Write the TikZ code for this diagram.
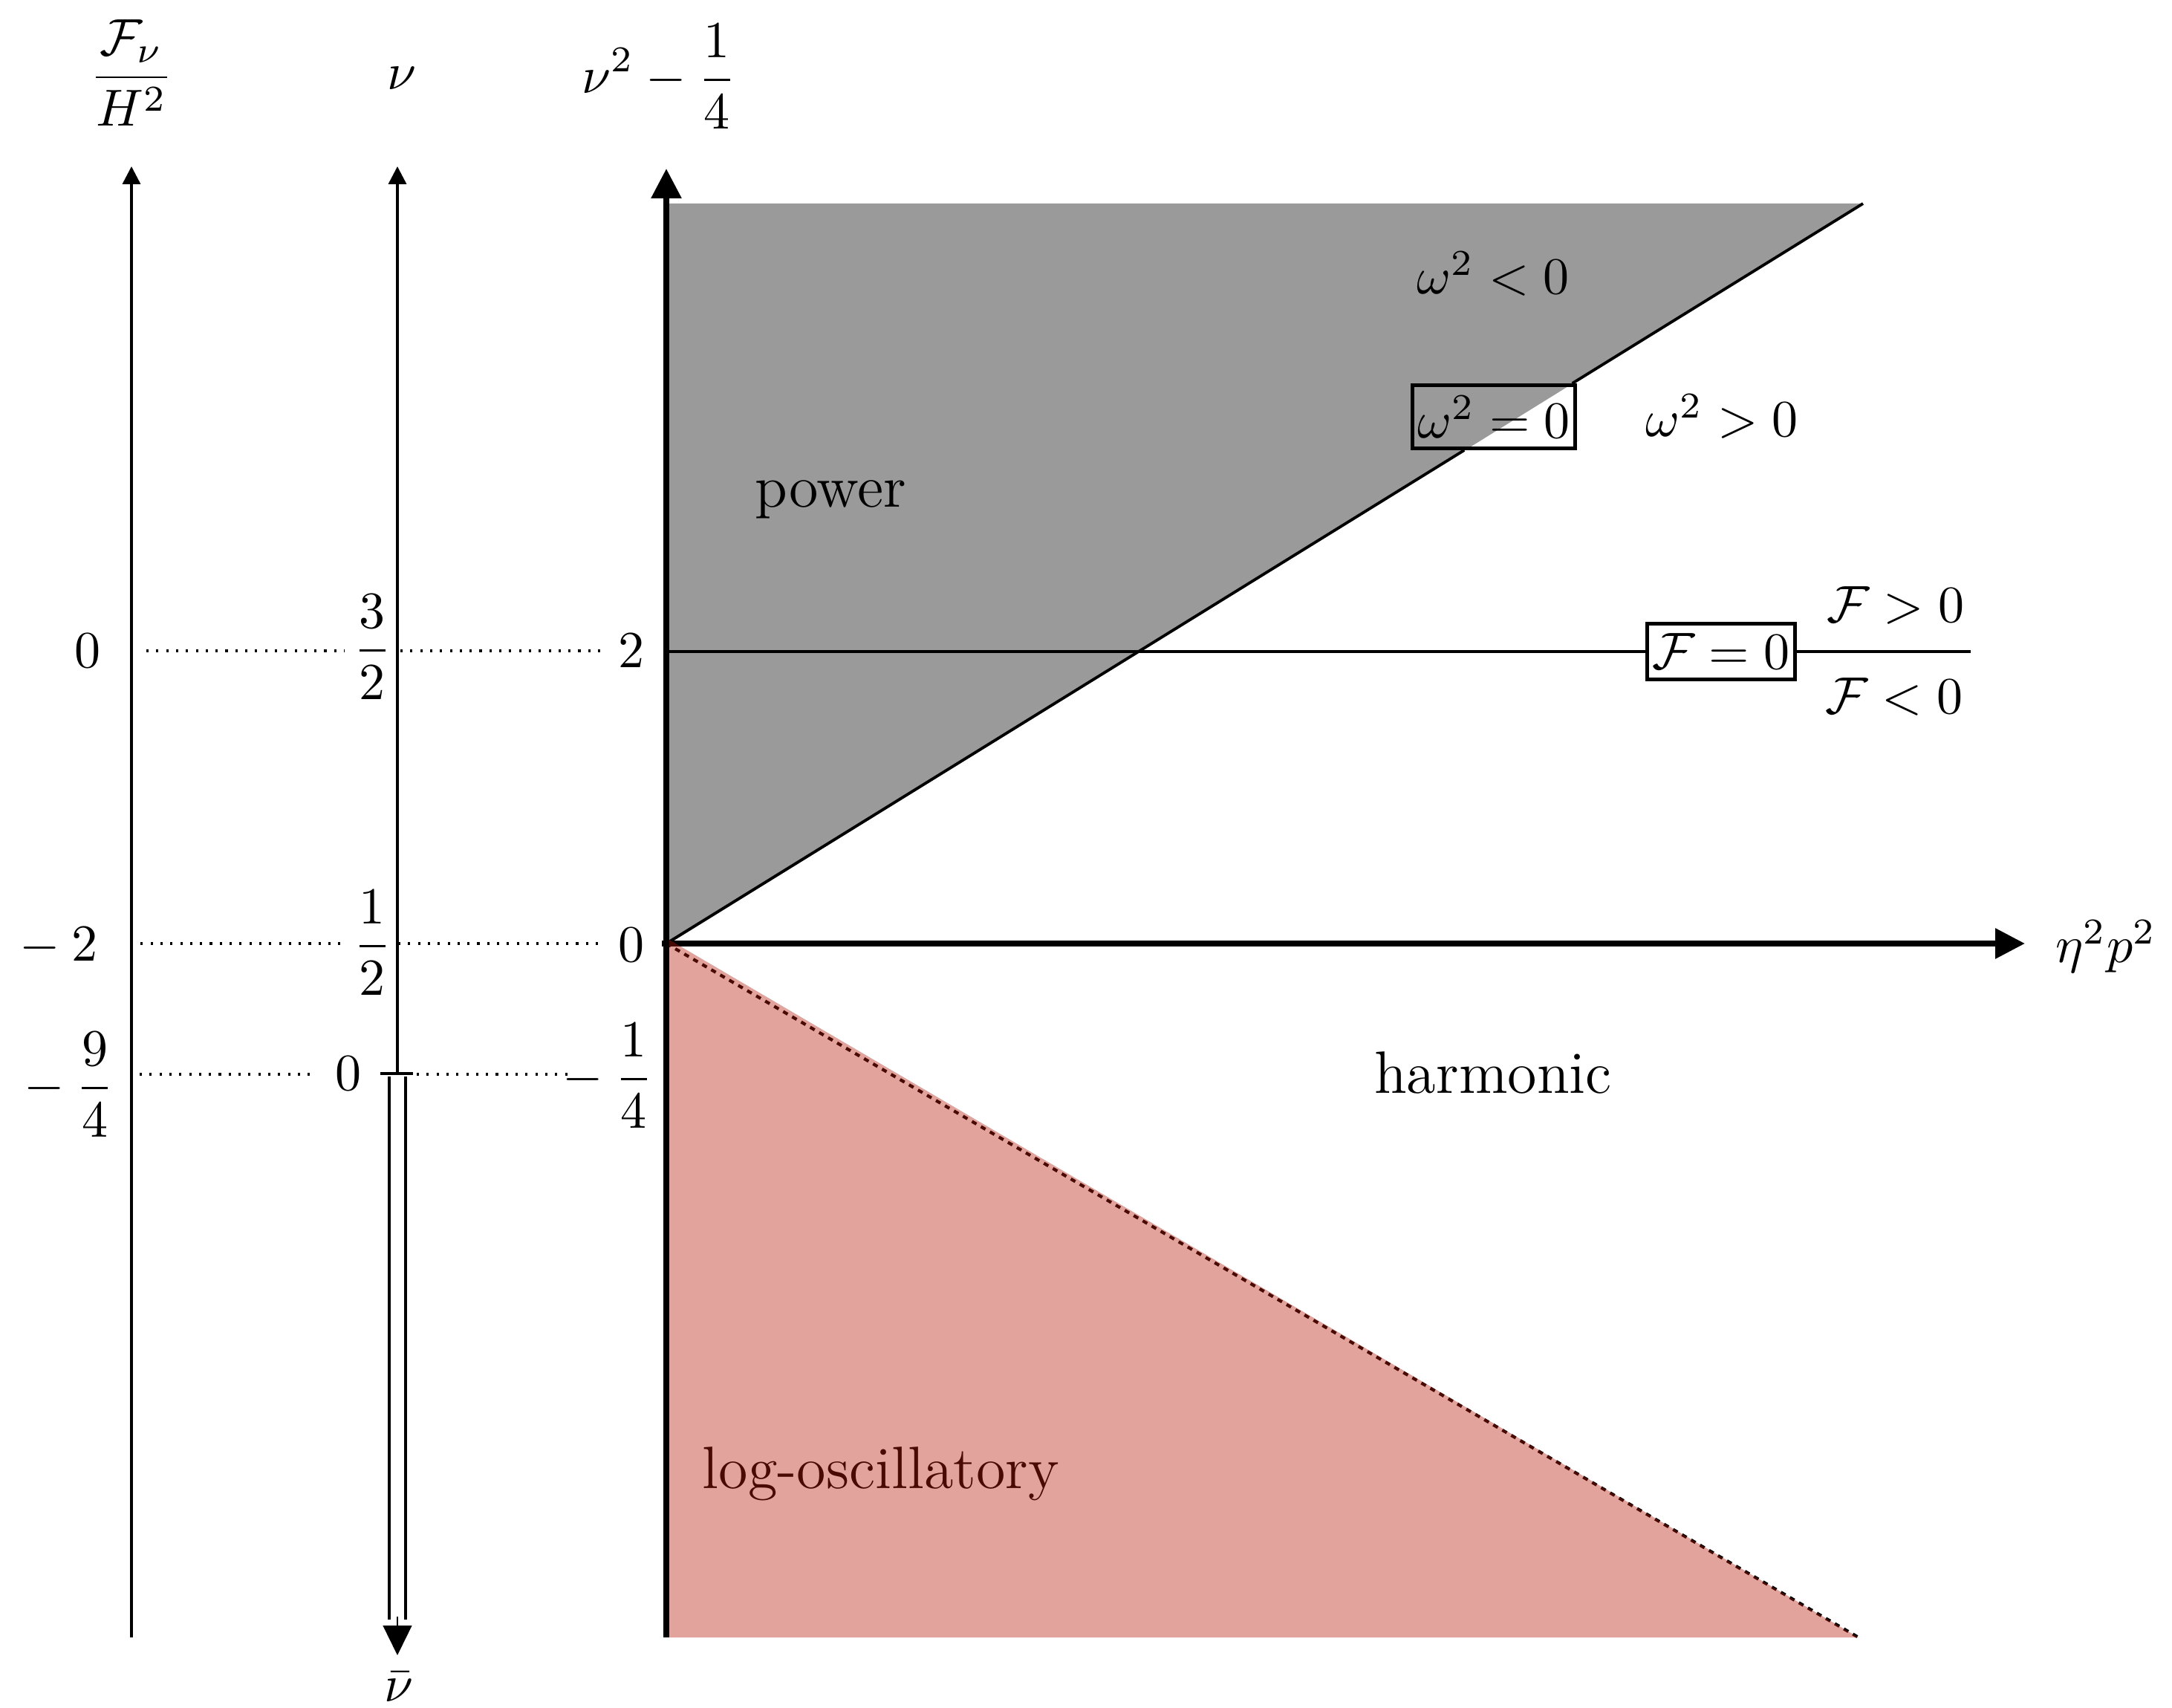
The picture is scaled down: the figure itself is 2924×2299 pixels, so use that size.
\documentclass[tikz,border=0pt]{standalone}
\usetikzlibrary{arrows.meta}
\definecolor{redfill}{RGB}{185,25,10}
\definecolor{grayfill}{RGB}{154,154,154}
\begin{document}
\begin{tikzpicture}[x=0.142857pt,y=-0.142857pt,
  thinax/.style={line width=0.5pt,-{Triangle[length=3.4pt,width=3.4pt]}},
  thickax/.style={line width=1.15pt,-{Triangle[length=5.7pt,width=5.6pt]}},
  guide/.style={line width=0.45pt,dash pattern=on 0.45pt off 1.45pt},
  thinline/.style={line width=0.55pt},
  boxlbl/.style={draw,line width=0.7pt,inner xsep=1pt,inner ysep=2pt},
  txt/.style={font=\fontsize{11.5}{13.5}\selectfont,anchor=base},
  mth/.style={anchor=base},
  lbl/.style={inner sep=0pt}
]
\useasboundingbox (0,0) rectangle (2924,2299);

% regions
\coordinate (O) at (897,1270);
\coordinate (T) at (2508,274);
\coordinate (R) at (2502,2204);
\fill[grayfill] (901,1270) -- (901,274) -- (T) -- cycle;

% dotted guide lines
\coordinate (g1a) at (197,876);  \coordinate (g1b) at (464,876);
\coordinate (g1c) at (539,876);  \coordinate (g1d) at (812,876);
\coordinate (g2a) at (176,1270); \coordinate (g2b) at (467,1270);
\coordinate (g2c) at (536,1270); \coordinate (g2d) at (806,1270);
\coordinate (g3a) at (188,1446); \coordinate (g3b) at (418,1446);
\coordinate (g3c) at (561,1446); \coordinate (g3d) at (764,1446);
\draw[guide] (g1a) -- (g1b); \draw[guide] (g1c) -- (g1d);
\draw[guide] (g2a) -- (g2b); \draw[guide] (g2c) -- (g2d);
\draw[guide] (g3a) -- (g3b); \draw[guide] (g3c) -- (g3d);

% boxed labels and the lines they sit on
\node[boxlbl] (wz) at (2011,561) {$\omega^2=0$};
\draw[thinline] (O) -- (intersection of O--T and wz.south west--wz.south east);
\draw[thinline] (intersection of O--T and wz.north west--wz.north east) -- (T);

\coordinate (F1) at (897,877);
\coordinate (F2) at (2653,877);
\node[boxlbl] (fz) at (2317,877) {$\mathcal{F}=0$};
\draw[thinline] (F1) -- (fz.west);
\draw[thinline] (fz.east) -- (F2);

% red boundary
\draw[line width=0.6pt,dash pattern=on 1pt off 1pt] (O) -- (R);

% axes
\coordinate (a1b) at (177,2204); \coordinate (a1t) at (177,224);
\draw[thinax] (a1b) -- (a1t);
\coordinate (a2b) at (535,1445); \coordinate (a2t) at (535,224);
\draw[thinax] (a2b) -- (a2t);
\coordinate (tkl) at (512,1445); \coordinate (tkr) at (556,1445);
\draw[line width=0.7pt] (tkl) -- (tkr);
\coordinate (d1t) at (524,1449); \coordinate (d1b) at (524,2180);
\coordinate (d2t) at (546,1449); \coordinate (d2b) at (546,2180);
\draw[line width=0.5pt] (d1t) -- (d1b);
\draw[line width=0.5pt] (d2t) -- (d2b);
\coordinate (nbA) at (535,2176); \coordinate (nbB) at (535,2228);
\draw[line width=0.4pt,-{Triangle[length=5.7pt,width=5.5pt]}] (nbA) -- (nbB);
\coordinate (a3b) at (897,2204); \coordinate (a3t) at (897,227);
\draw[thickax] (a3b) -- (a3t);
\coordinate (hxl) at (891,1270); \coordinate (hxr) at (2726,1270);
\draw[thickax] (hxl) -- (hxr);

% axis titles
\node (tF) at (177,98) {$\displaystyle\frac{\mathcal{F}_\nu}{H^2}$};
\node (tnu) at (541,105) {$\nu$};
\node (tnu2) at (887,103) {$\displaystyle\nu^2-\frac14$};
\node (tnub) at (537,2271) {$\bar\nu$};
\node (teta) at (2835,1274) {$\eta^2p^2$};

% tick labels
\node (l1) at (118,876) {$0$};
\node (l2) at (79,1274) {$-\:2$};
\node (l3) at (93,1460) {$-\:\displaystyle\frac94$};
\node (n1) at (501,871) {$\displaystyle\frac32$};
\node (n2) at (501,1269) {$\displaystyle\frac12$};
\node (n3) at (469,1445) {$0$};
\node (m1) at (850,876) {$2$};
\node (m2) at (850,1272) {$0$};
\node (m3) at (818,1448) {$-\:\displaystyle\frac14$};

% region labels
\node[mth] (wneg) at (2010,396) {$\omega^2<0$};
\node[mth] (wpos) at (2318,588) {$\omega^2>0$};
\node[mth] (fpos) at (2552,838) {$\mathcal{F}>0$};
\node[mth] (fneg) at (2550,961) {$\mathcal{F}<0$};
\node[txt] (pw) at (1118,683) {power};
\node[txt] (hm) at (2010,1471) {harmonic};
\node[txt] (lo) at (1186,2003) {log-oscillatory};

% translucent red region on top
\fill[redfill,opacity=0.4] (901,1265) -- (R) -- (901,2204) -- cycle;
\end{tikzpicture}
\end{document}
